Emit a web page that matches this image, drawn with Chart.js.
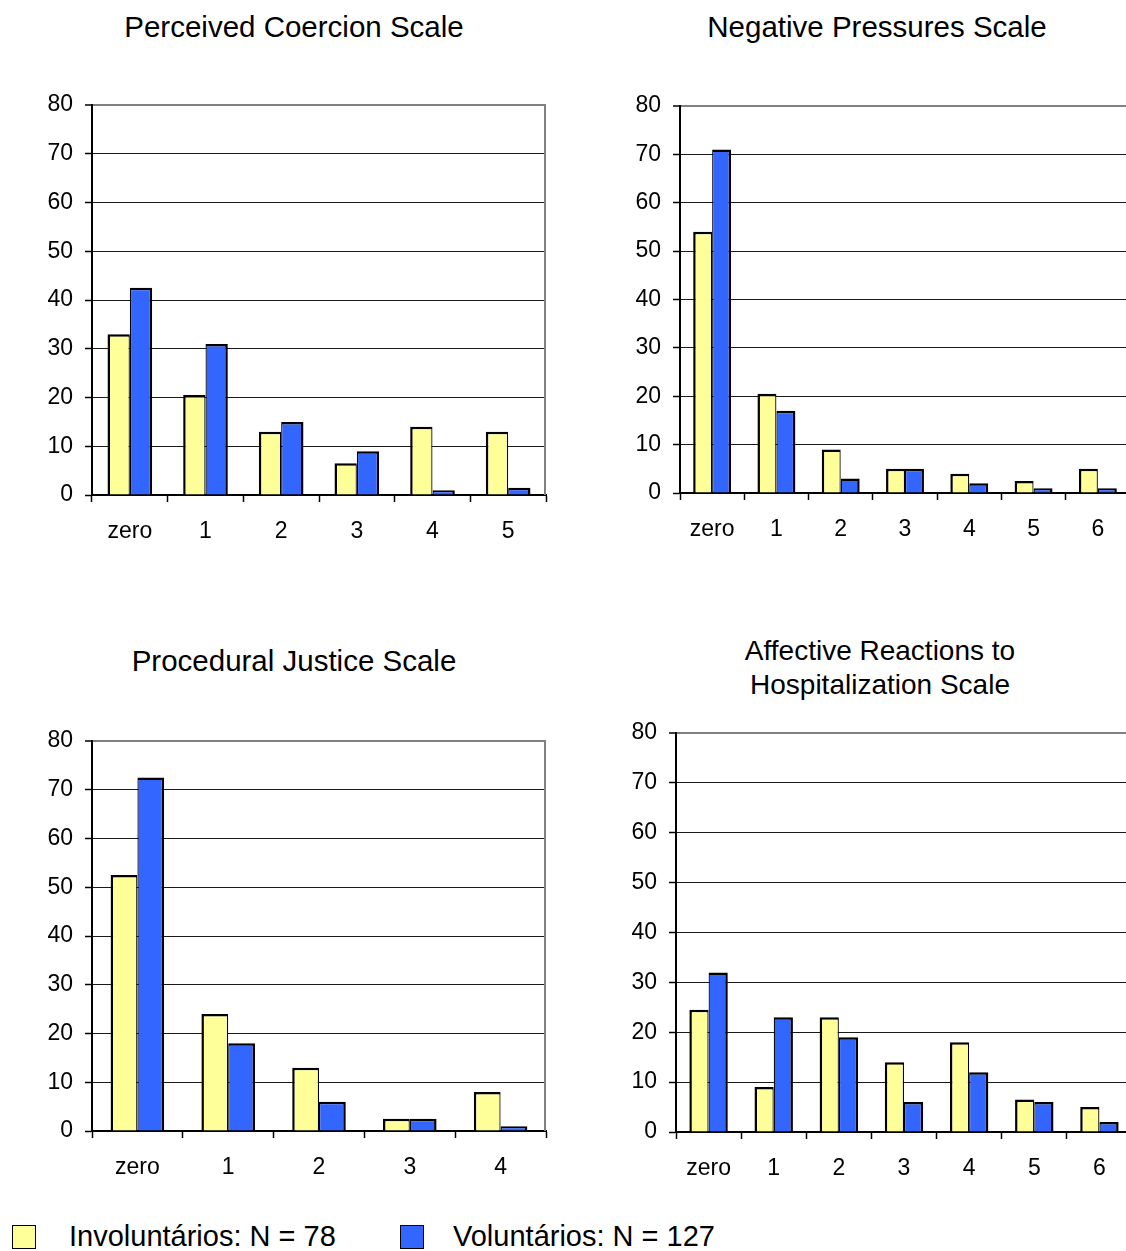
<!DOCTYPE html>
<html>
<head>
<meta charset="utf-8">
<script src="https://cdn.jsdelivr.net/npm/chart.js@4/dist/chart.umd.min.js"></script>
<style>
  html, body { margin: 0; padding: 0; background: #fff; overflow: hidden; }
  #page { position: relative; width: 1126px; height: 1251px; overflow: hidden;
          font-family: "Liberation Sans", Arial, sans-serif; color: #000; }
  .title { position: absolute; width: 560px; font-size: 29.5px; line-height: 34px;
           text-align: center; white-space: nowrap; }
  .title.two-line { font-size: 28px; }
  .panel { position: absolute; }
  .swatch { position: absolute; width: 22px; height: 22px; border: 1.5px solid #000; }
  .legend-text { position: absolute; font-size: 29px; line-height: 34px; white-space: nowrap; }
</style>
</head>
<body>
<div id="page">
  <div class="title" style="left:14px; top:10px;">Perceived Coercion Scale</div>
  <div class="title" style="left:597px; top:10px;">Negative Pressures Scale</div>
  <div class="title" style="left:14px; top:644px;">Procedural Justice Scale</div>
  <div class="title two-line" style="left:600px; top:634px;">Affective Reactions to<br>Hospitalization Scale</div>

  <canvas id="coercion" class="panel" width="556" height="470" style="left:0px; top:85px;"></canvas>
  <canvas id="pressures" class="panel" width="542" height="467" style="left:588px; top:86px;"></canvas>
  <canvas id="justice" class="panel" width="556" height="470" style="left:0px; top:721px;"></canvas>
  <canvas id="affective" class="panel" width="548" height="479" style="left:584px; top:713px;"></canvas>

  <div class="swatch" style="left:12px; top:1225px; background:#FFFF99;"></div>
  <div class="legend-text" id="legInv" style="left:69px; top:1219px;"></div>
  <div class="swatch" style="left:400px; top:1225px; background:#3366FF;"></div>
  <div class="legend-text" id="legVol" style="left:453px; top:1219px;"></div>
</div>

<script>
// Series names
const involuntaryLabel = 'Involuntários: N = 78';
const voluntaryLabel = 'Voluntários: N = 127';

// Perceived Coercion Scale
const coercionCategories = ['zero', '1', '2', '3', '4', '5'];
const coercionInvoluntary = [33, 20.5, 13, 6.5, 14, 13];
const coercionVoluntary = [42.5, 31, 15, 9, 1, 1.5];

// Negative Pressures Scale
const pressuresCategories = ['zero', '1', '2', '3', '4', '5', '6'];
const pressuresInvoluntary = [54, 20.5, 9, 5, 4, 2.5, 5];
const pressuresVoluntary = [71, 17, 3, 5, 2, 1, 1];

// Procedural Justice Scale
const justiceCategories = ['zero', '1', '2', '3', '4'];
const justiceInvoluntary = [52.5, 24, 13, 2.5, 8];
const justiceVoluntary = [72.5, 18, 6, 2.5, 1];

// Affective Reactions to Hospitalization Scale
const affectiveCategories = ['zero', '1', '2', '3', '4', '5', '6'];
const affectiveInvoluntary = [24.5, 9, 23, 14, 18, 6.5, 5];
const affectiveVoluntary = [32, 23, 19, 6, 12, 6, 2];

// Value axis
const yMin = 0;
const yMax = 80;
const yStep = 10;

document.getElementById('legInv').textContent = involuntaryLabel;
document.getElementById('legVol').textContent = voluntaryLabel;

const FONT = '"Liberation Sans", Arial, sans-serif';
const YELLOW = '#FFFF99';
const BLUE = '#3366FF';

// Grey frame on the right edge of the plot area
const plotFrame = {
  id: 'plotFrame',
  afterDatasetsDraw(chart) {
    const { ctx, chartArea: a } = chart;
    ctx.save();
    ctx.strokeStyle = '#808080';
    ctx.lineWidth = 2;
    ctx.beginPath();
    ctx.moveTo(a.right - 1, a.top);
    ctx.lineTo(a.right - 1, a.bottom);
    ctx.stroke();
    ctx.restore();
  }
};

function makePanel(id, categories, involuntary, voluntary, rightPad) {
  return new Chart(document.getElementById(id), {
    type: 'bar',
    data: {
      labels: categories,
      datasets: [
        {
          label: involuntaryLabel,
          data: involuntary,
          backgroundColor: YELLOW,
          borderColor: '#000',
          borderWidth: { top: 2.5, left: 2.5, right: 1.25, bottom: 0 },
          categoryPercentage: 0.59,
          barPercentage: 1.0
        },
        {
          label: voluntaryLabel,
          data: voluntary,
          backgroundColor: BLUE,
          borderColor: '#000',
          borderWidth: { top: 2.5, left: 1.25, right: 2.5, bottom: 0 },
          categoryPercentage: 0.59,
          barPercentage: 1.0
        }
      ]
    },
    options: {
      responsive: false,
      animation: false,
      events: [],
      layout: { padding: { top: 20, right: rightPad, left: 0, bottom: 0 } },
      plugins: {
        legend: { display: false },
        tooltip: { enabled: false },
        title: { display: false }
      },
      scales: {
        x: {
          grid: {
            offset: true,
            drawOnChartArea: false,
            drawTicks: true,
            tickLength: 7,
            tickColor: '#000',
            tickWidth: 1.5
          },
          border: { display: true, color: '#000', width: 2 },
          ticks: {
            color: '#000',
            font: { family: FONT, size: 23 },
            padding: 16,
            autoSkip: false,
            maxRotation: 0
          },
          afterFit(scale) {
            scale.height = 60;
            scale.paddingLeft = 0;
            scale.paddingRight = 0;
          }
        },
        y: {
          min: yMin,
          max: yMax,
          ticks: {
            stepSize: yStep,
            color: '#000',
            font: { family: FONT, size: 23 },
            padding: 12
          },
          grid: {
            color: ctx => (ctx.tick && ctx.tick.value === yMax) ? '#808080' : '#1a1a1a',
            lineWidth: ctx => (ctx.tick && ctx.tick.value === yMax) ? 2 : 1,
            tickColor: '#000',
            tickLength: 7,
            tickWidth: 1.5
          },
          border: { display: true, color: '#000', width: 2 },
          afterFit(scale) {
            scale.width = 92;
            scale.paddingTop = 0;
            scale.paddingBottom = 0;
          }
        }
      }
    },
    plugins: [plotFrame]
  });
}

makePanel('coercion', coercionCategories, coercionInvoluntary, coercionVoluntary, 10);
makePanel('pressures', pressuresCategories, pressuresInvoluntary, pressuresVoluntary, 0);
makePanel('justice', justiceCategories, justiceInvoluntary, justiceVoluntary, 10);
makePanel('affective', affectiveCategories, affectiveInvoluntary, affectiveVoluntary, 0);
</script>
</body>
</html>
